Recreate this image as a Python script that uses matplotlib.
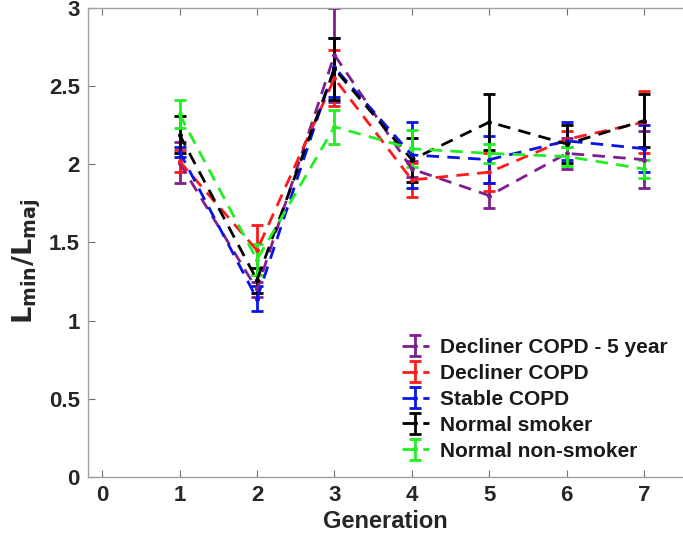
import matplotlib
matplotlib.use("Agg")
import matplotlib.pyplot as plt
import numpy as np

generations = [1, 2, 3, 4, 5, 6, 7]
labels = ["Decliner COPD - 5 year", "Decliner COPD", "Stable COPD",
          "Normal smoker", "Normal non-smoker"]
colors = ["#7f1f8f", "#ff1a1a", "#0a14e6", "#000000", "#22ee22"]

decliner5_mean = [2.01, 1.20, 2.70, 1.97, 1.80, 2.07, 2.03]
decliner5_err  = [0.13, 0.05, 0.30, 0.05, 0.08, 0.10, 0.18]
decliner_mean  = [2.02, 1.45, 2.55, 1.90, 1.95, 2.16, 2.27]
decliner_err   = [0.07, 0.16, 0.18, 0.11, 0.12, 0.05, 0.20]
stable_mean    = [2.08, 1.14, 2.62, 2.06, 2.03, 2.15, 2.10]
stable_err     = [0.03, 0.08, 0.19, 0.21, 0.15, 0.12, 0.15]
smoker_mean    = [2.19, 1.26, 2.61, 2.03, 2.27, 2.13, 2.28]
smoker_err     = [0.12, 0.08, 0.20, 0.14, 0.18, 0.12, 0.17]
nonsmoker_mean = [2.32, 1.39, 2.24, 2.10, 2.07, 2.05, 1.97]
nonsmoker_err  = [0.09, 0.10, 0.11, 0.12, 0.06, 0.06, 0.06]

means = [decliner5_mean, decliner_mean, stable_mean, smoker_mean, nonsmoker_mean]
errs = [decliner5_err, decliner_err, stable_err, smoker_err, nonsmoker_err]

plt.rcParams['font.family'] = ['Liberation Sans', 'DejaVu Sans']

fig = plt.figure(figsize=(6.83, 5.48), dpi=100)
ax = fig.add_axes([0.129, 0.1296, 0.871, 0.8558])

for m, e, c, lab in zip(means, errs, colors, labels):
    ax.errorbar(generations, m, yerr=e, color=c, linestyle='--', linewidth=2.0,
                dashes=(4.5, 3), marker='o', markersize=2.5, capsize=4.5,
                capthick=2.0, elinewidth=2.0, label=lab)

ax.set_xlim(-0.18, 7.5)
ax.set_ylim(0, 3)
ax.set_xticks([0, 1, 2, 3, 4, 5, 6, 7])
ax.set_yticks([0, 0.5, 1, 1.5, 2, 2.5, 3])
ax.set_yticklabels(["0", "0.5", "1", "1.5", "2", "2.5", "3"])

for s in ['left', 'bottom', 'top']:
    ax.spines[s].set_color('#a0a0a0')
    ax.spines[s].set_linewidth(1.0)
ax.spines['right'].set_visible(False)
ax.tick_params(direction='in', length=5, color='#707070', labelsize=16,
               top=True, right=False, pad=6)
for t in ax.get_xticklabels() + ax.get_yticklabels():
    t.set_fontweight('bold')
    t.set_color('#262626')

ax.set_xlabel("Generation", fontsize=17, fontweight='bold', color='#262626', labelpad=3)
ax.set_ylabel(r"$\mathbf{L_{min}/L_{maj}}$", fontsize=19.5, color='#262626')
ax.yaxis.set_label_coords(-0.075, 0.46)

leg = ax.legend(loc='lower left', bbox_to_anchor=(0.527, 0.035), frameon=False,
                prop={'weight': 'bold', 'size': 15}, handlelength=1.3,
                handletextpad=0.55, labelspacing=0.33, borderpad=0, borderaxespad=0)
for t in leg.get_texts():
    t.set_color('#1a1a1a')

fig.savefig("out.png", dpi=100)
